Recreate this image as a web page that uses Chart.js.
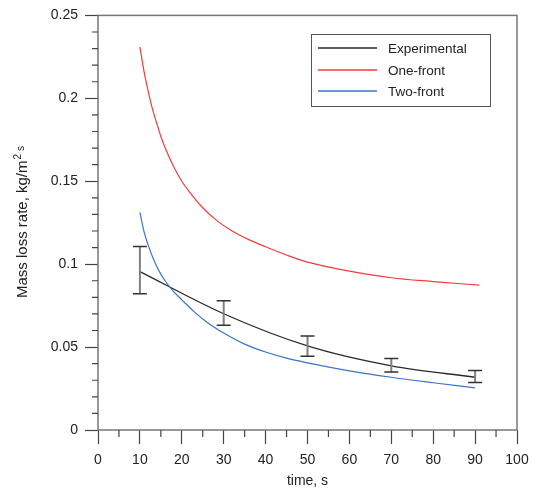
<!DOCTYPE html>
<html>
<head>
<meta charset="utf-8">
<script src="https://cdn.jsdelivr.net/npm/chart.js@4.4.1/dist/chart.umd.min.js"></script>
<style>
  html, body { margin: 0; padding: 0; background: #fff; }
  #wrap { width: 539px; height: 490px; }
</style>
</head>
<body>
<div id="wrap"><canvas id="chart"></canvas></div>
<script>
// measured points with error bars
const expTime = [10, 30, 50, 70, 90];
const expRate = [0.0955, 0.0701, 0.0507, 0.0387, 0.0318];
const expLow = [0.0821, 0.0631, 0.0445, 0.0349, 0.0287];
const expHigh = [0.1106, 0.0779, 0.0567, 0.0431, 0.0359];

// model curves
const oneTime = [10, 11, 12, 13, 14, 15, 16, 18, 20, 22, 25, 28, 32, 36, 40, 45, 50, 60, 70, 80, 91];
const oneRate = [0.231, 0.216, 0.204, 0.1935, 0.185, 0.177, 0.1703, 0.159, 0.150, 0.143, 0.134, 0.127,
                 0.120, 0.1148, 0.1105, 0.1055, 0.1012, 0.0958, 0.0918, 0.0895, 0.0873];
const twoTime = [10, 11, 12, 13, 14, 15, 16, 17, 18, 20, 23, 26, 30, 35, 40, 45, 50, 60, 70, 80, 90];
const twoRate = [0.1312, 0.1195, 0.1113, 0.1045, 0.0988, 0.094, 0.090, 0.0866, 0.0836, 0.0785, 0.0712,
                 0.065, 0.0585, 0.0518, 0.047, 0.0433, 0.0405, 0.0357, 0.0318, 0.0285, 0.0254];

const xTicks = [0, 10, 20, 30, 40, 50, 60, 70, 80, 90, 100];
const xMinor = [5, 15, 25, 35, 45, 55, 65, 75, 85, 95];
const yTicks = [0, 0.05, 0.1, 0.15, 0.2, 0.25];
const yMinor = [0.01, 0.02, 0.03, 0.04, 0.06, 0.07, 0.08, 0.09, 0.11, 0.12, 0.13, 0.14,
                0.16, 0.17, 0.18, 0.19, 0.21, 0.22, 0.23, 0.24];

const FONT = "'Liberation Sans', Arial, sans-serif";
const pts = (xs, ys) => xs.map((x, i) => ({ x, y: ys[i] }));

const extras = {
  id: "extras",
  afterDatasetsDraw(chart) {
    const { ctx, scales: { x, y } } = chart;
    ctx.save();
    expTime.forEach((t, i) => {
      const px = x.getPixelForValue(t);
      const top = y.getPixelForValue(expHigh[i]);
      const bot = y.getPixelForValue(expLow[i]);
      ctx.strokeStyle = "#808080";
      ctx.lineWidth = 2;
      ctx.beginPath();
      ctx.moveTo(px, top);
      ctx.lineTo(px, bot);
      ctx.stroke();
      ctx.strokeStyle = "#333";
      ctx.lineWidth = 1.5;
      ctx.beginPath();
      ctx.moveTo(px - 7, top);
      ctx.lineTo(px + 7, top);
      ctx.moveTo(px - 7, bot);
      ctx.lineTo(px + 7, bot);
      ctx.stroke();
    });
    ctx.restore();
  },
  afterDraw(chart) {
    const { ctx, chartArea: a, scales: { x, y } } = chart;
    ctx.save();
    // frame
    ctx.strokeStyle = "#777";
    ctx.lineWidth = 1.5;
    ctx.strokeRect(a.left, a.top, a.right - a.left, a.bottom - a.top);
    // minor ticks
    ctx.strokeStyle = "#444";
    ctx.lineWidth = 1.2;
    ctx.beginPath();
    xMinor.forEach((v) => {
      const px = x.getPixelForValue(v);
      ctx.moveTo(px, a.bottom);
      ctx.lineTo(px, a.bottom + 7);
    });
    yMinor.forEach((v) => {
      const py = y.getPixelForValue(v);
      ctx.moveTo(a.left, py);
      ctx.lineTo(a.left - 6, py);
    });
    ctx.stroke();

    // axis titles
    ctx.fillStyle = "#222";
    ctx.font = `14px ${FONT}`;
    ctx.textAlign = "center";
    ctx.textBaseline = "middle";
    ctx.fillText("time, s", (a.left + a.right) / 2, 481);

    ctx.save();
    ctx.translate(27, 222);
    ctx.rotate(-Math.PI / 2);
    ctx.textBaseline = "alphabetic";
    ctx.textAlign = "left";
    const main = "Mass loss rate, kg/m";
    ctx.font = `15px ${FONT}`;
    const wMain = ctx.measureText(main).width;
    ctx.font = `10px ${FONT}`;
    const wSup = ctx.measureText("2").width;
    const wSub = ctx.measureText("s").width;
    const total = wMain + 1 + wSup + 3 + wSub;
    let sx = -total / 2;
    ctx.font = `15px ${FONT}`;
    ctx.fillText(main, sx, 0);
    sx += wMain + 1;
    ctx.font = `10px ${FONT}`;
    ctx.fillText("2", sx, -6);
    sx += wSup + 3;
    ctx.fillText("s", sx, -3);
    ctx.restore();

    // legend
    ctx.strokeStyle = "#555";
    ctx.lineWidth = 1;
    ctx.strokeRect(311.5, 34.5, 179, 72);
    ctx.font = `13.5px ${FONT}`;
    ctx.textAlign = "left";
    ctx.textBaseline = "middle";
    const rows = [48, 70, 91];
    chart.data.datasets.forEach((ds) => {
      const ly = rows[ds.legendRow];
      ctx.strokeStyle = ds.borderColor;
      ctx.lineWidth = 1.3;
      ctx.beginPath();
      ctx.moveTo(318, ly);
      ctx.lineTo(377, ly);
      ctx.stroke();
      ctx.fillStyle = "#222";
      ctx.fillText(ds.label, 388, ly + 1);
    });
    ctx.restore();
  }
};

new Chart(document.getElementById("chart"), {
  type: "line",
  data: {
    datasets: [
      { label: "One-front", legendRow: 1, data: pts(oneTime, oneRate), borderColor: "#f03c3c",
        borderWidth: 1.2, pointRadius: 0, cubicInterpolationMode: "monotone" },
      { label: "Two-front", legendRow: 2, data: pts(twoTime, twoRate), borderColor: "#3a74c8",
        borderWidth: 1.2, pointRadius: 0, cubicInterpolationMode: "monotone" },
      { label: "Experimental", legendRow: 0, data: pts(expTime, expRate), borderColor: "#2a2a2a",
        borderWidth: 1.3, pointRadius: 0, cubicInterpolationMode: "monotone" }
    ]
  },
  options: {
    responsive: true,
    maintainAspectRatio: false,
    animation: false,
    layout: { padding: { top: 14, right: 22, left: 0, bottom: 0 } },
    plugins: { legend: { display: false }, tooltip: { enabled: false } },
    scales: {
      x: {
        type: "linear", min: 0, max: 100,
        afterBuildTicks: (s) => { s.ticks = xTicks.map((v) => ({ value: v })); },
        afterFit: (s) => { s.height = 60; },
        grid: { display: true, drawOnChartArea: false, drawTicks: true, tickLength: 14,
                tickColor: "#444", tickWidth: 1.2 },
        border: { display: false },
        ticks: { color: "#222", padding: 8, maxRotation: 0, font: { size: 14, family: FONT } }
      },
      y: {
        type: "linear", min: 0, max: 0.25,
        afterBuildTicks: (s) => { s.ticks = yTicks.map((v) => ({ value: v })); },
        afterFit: (s) => { s.width = 98; },
        grid: { display: true, drawOnChartArea: false, drawTicks: true, tickLength: 13,
                tickColor: "#444", tickWidth: 1.2 },
        border: { display: false },
        ticks: { color: "#222", padding: 7, font: { size: 14, family: FONT },
                 callback: (v) => String(+v.toFixed(2)) }
      }
    }
  },
  plugins: [extras]
});
</script>
</body>
</html>
